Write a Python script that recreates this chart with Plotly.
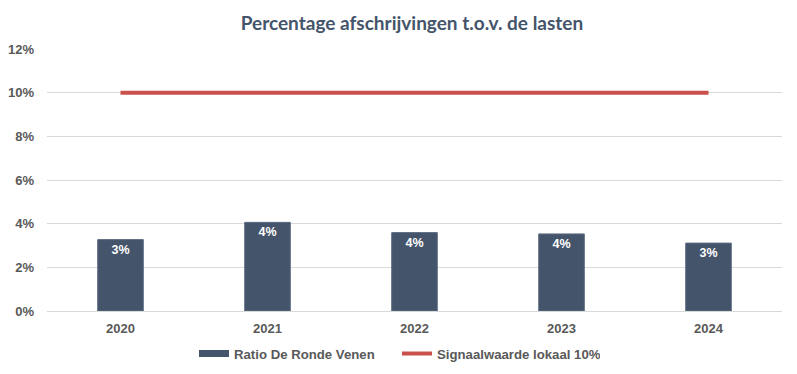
import plotly.graph_objects as go

years = ["2020", "2021", "2022", "2023", "2024"]
ratio = [3.27, 4.06, 3.59, 3.53, 3.11]
signal = [10, 10, 10, 10, 10]
ytick_vals = [0, 2, 4, 6, 8, 10, 12]
ytick_text = ["0%", "2%", "4%", "6%", "8%", "10%", "12%"]

bar_color = "#44546A"
line_color = "#C9504B"
txt_color = "#595959"
FONT = "Liberation Sans, Arial"

fig = go.Figure()
fig.add_trace(go.Bar(
    x=years, y=ratio, name="Ratio De Ronde Venen", showlegend=False,
    marker=dict(color=bar_color, line=dict(color="#5A6A80", width=1)),
    width=0.31,
    text=[f"{round(v):.0f}%" for v in ratio],
    textposition="inside", insidetextanchor="end",
    textfont=dict(family=FONT, size=12.5, color="white", weight="bold"),
    textangle=0,
))
# legend-only entry giving the bar series a wide rectangular key, as in the reference
fig.add_trace(go.Scatter(
    x=[None], y=[None], name="Ratio De Ronde Venen",
    mode="lines", line=dict(color=bar_color, width=7),
))
fig.add_trace(go.Scatter(
    x=years, y=signal, name="Signaalwaarde lokaal 10%",
    mode="lines", line=dict(color=line_color, width=4),
))

# page body has an 8px margin, so the figure is sized/positioned to compensate
fig.update_layout(
    width=789, height=366,
    margin=dict(l=39, r=15, t=41, b=63, autoexpand=False),
    paper_bgcolor="white", plot_bgcolor="white",
    title=dict(text="<b>Percentage afschrijvingen t.o.v. de lasten</b>",
               x=0.512, xanchor="center", y=0.957, yanchor="middle",
               font=dict(family="Lato, Open Sans", size=19, color="#44546A")),
    showlegend=True,
    legend=dict(orientation="h", x=0.2, xanchor="left", y=-0.164, yanchor="middle",
                font=dict(family=FONT, size=13.2, color=txt_color, weight="bold"),
                itemwidth=30, entrywidth=158, entrywidthmode="pixels",
                traceorder="normal"),
    font=dict(family=FONT, size=13, color=txt_color),
    bargap=0.69,
)
fig.update_yaxes(range=[0, 12], tickvals=ytick_vals, ticktext=ytick_text,
                 automargin=False,
                 showgrid=True, gridcolor="#D9D9D9", gridwidth=1,
                 zeroline=False, showline=False, ticks="", ticklabelstandoff=12,
                 tickfont=dict(family=FONT, size=13, color=txt_color, weight="bold"))
fig.update_xaxes(type="category", showgrid=False, showline=True, linecolor="#D9D9D9",
                 automargin=False,
                 linewidth=1, ticks="", ticklabelstandoff=5,
                 tickfont=dict(family=FONT, size=13, color=txt_color, weight="bold"))

fig.write_html("out.html")
